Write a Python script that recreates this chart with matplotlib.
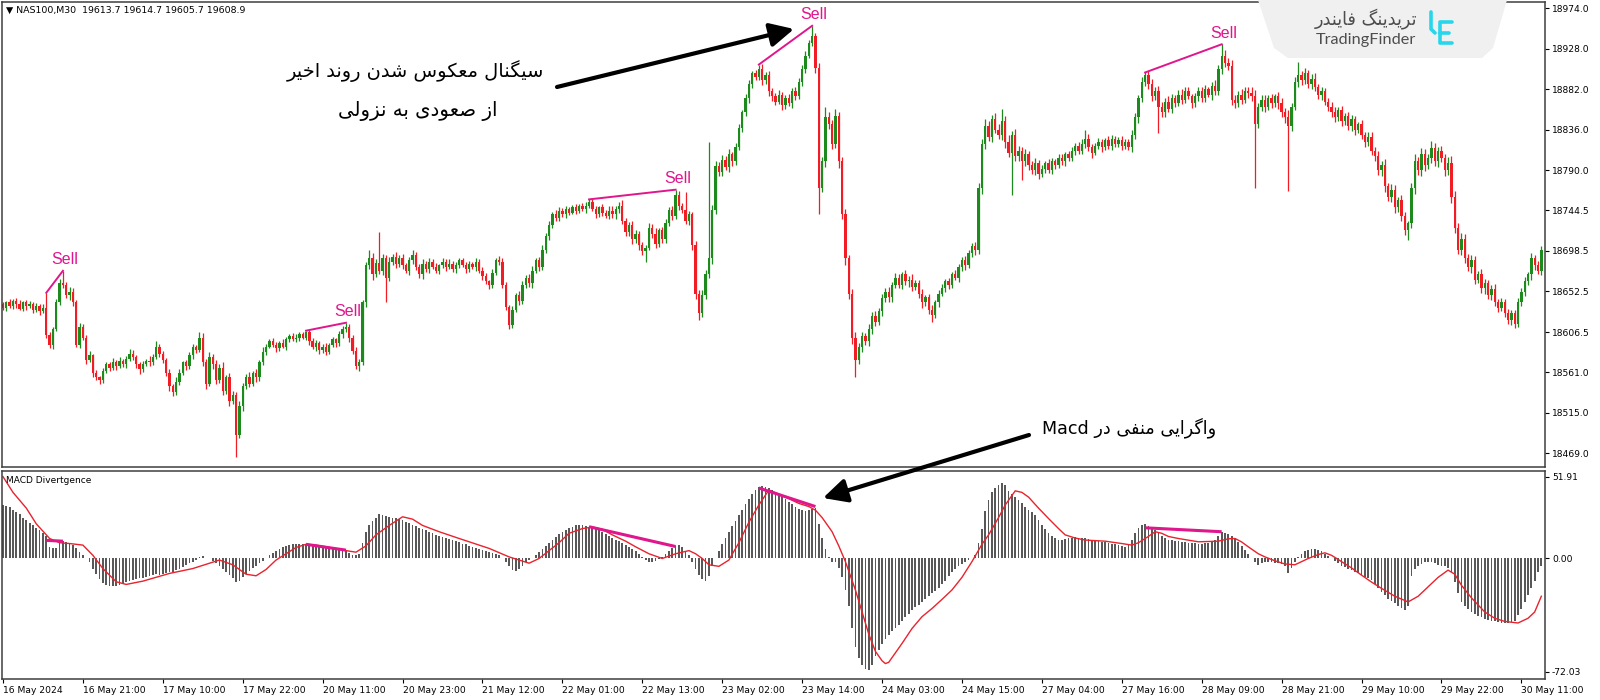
import numpy as np
import matplotlib
matplotlib.use("Agg")
import matplotlib.pyplot as plt
from matplotlib.patches import Polygon, FancyArrowPatch
from matplotlib.lines import Line2D

# ---- data ----
first_open = 18638
closes = [
    18634, 18640, 18636, 18642, 18638, 18633, 18640, 18636, 18638, 18632, 18636, 18630, 18634, 18603, 18592, 18610, 18640, 18662, 18660, 18648, 18652, 18640, 18592, 18612,
    18600, 18575, 18580, 18560, 18555, 18552, 18562, 18570, 18566, 18572, 18568, 18574, 18570, 18576, 18582, 18578, 18570, 18564, 18570, 18574, 18572, 18578, 18590, 18582,
    18575, 18560, 18545, 18538, 18550, 18560, 18572, 18568, 18580, 18590, 18586, 18600, 18572, 18548, 18578, 18570, 18552, 18566, 18540, 18555, 18528, 18535, 18490, 18522,
    18545, 18556, 18548, 18560, 18555, 18572, 18584, 18590, 18596, 18592, 18588, 18594, 18590, 18598, 18602, 18598, 18600, 18604, 18600, 18606, 18596, 18590, 18594, 18586,
    18590, 18584, 18592, 18598, 18594, 18604, 18610, 18612, 18600, 18585, 18568, 18572, 18640, 18682, 18690, 18672, 18685, 18676, 18690, 18668, 18686, 18692, 18684, 18690,
    18682, 18676, 18688, 18694, 18680, 18672, 18684, 18678, 18686, 18680, 18676, 18682, 18686, 18680, 18684, 18678, 18682, 18688, 18682, 18678, 18684, 18680, 18686, 18676,
    18670, 18664, 18660, 18674, 18688, 18686, 18660, 18635, 18615, 18632, 18648, 18642, 18660, 18668, 18662, 18676, 18688, 18680, 18700, 18716, 18728, 18740, 18736, 18744,
    18740, 18746, 18742, 18748, 18744, 18750, 18746, 18750, 18754, 18746, 18740, 18748, 18742, 18738, 18744, 18740, 18746, 18750, 18732, 18720, 18728, 18712, 18718, 18705,
    18698, 18702, 18725, 18718, 18706, 18722, 18712, 18730, 18745, 18738, 18762, 18750, 18745, 18732, 18740, 18705, 18650, 18628, 18648, 18672, 18690, 18745, 18795, 18788,
    18802, 18794, 18808, 18800, 18816, 18838, 18856, 18872, 18888, 18900, 18896, 18905, 18892, 18898, 18880, 18874, 18868, 18876, 18864, 18872, 18866, 18880, 18874, 18890,
    18905, 18920, 18935, 18942, 18906, 18770, 18800, 18850, 18842, 18820, 18852, 18800, 18740, 18690, 18650, 18600, 18575, 18590, 18602, 18596, 18610, 18625, 18618, 18630,
    18645, 18652, 18646, 18660, 18668, 18660, 18672, 18664, 18666, 18658, 18662, 18650, 18640, 18646, 18632, 18626, 18640, 18650, 18656, 18664, 18660, 18672, 18668, 18680,
    18688, 18682, 18696, 18704, 18700, 18770, 18820, 18840, 18828, 18848, 18836, 18830, 18846, 18822, 18810, 18830, 18806, 18812, 18800, 18808, 18796, 18790, 18798, 18786,
    18792, 18798, 18790, 18800, 18796, 18804, 18800, 18808, 18804, 18812, 18818, 18812, 18820, 18826, 18816, 18810, 18818, 18822, 18816, 18824, 18818, 18826, 18820, 18824,
    18818, 18822, 18816, 18830, 18850, 18872, 18890, 18898, 18888, 18874, 18880, 18862, 18856, 18868, 18860, 18872, 18866, 18876, 18870, 18880, 18874, 18866, 18874, 18880,
    18872, 18882, 18876, 18886, 18880, 18905, 18920, 18912, 18908, 18870, 18866, 18876, 18870, 18880, 18878, 18874, 18842, 18862, 18870, 18862, 18872, 18866, 18874, 18866,
    18856, 18850, 18840, 18862, 18890, 18898, 18892, 18900, 18888, 18894, 18884, 18876, 18880, 18868, 18862, 18856, 18850, 18858, 18846, 18852, 18840, 18848, 18836, 18842,
    18830, 18822, 18828, 18812, 18806, 18790, 18796, 18772, 18760, 18768, 18748, 18756, 18738, 18722, 18730, 18770, 18800, 18790, 18808, 18796, 18804, 18815, 18800, 18812,
    18804, 18790, 18798, 18760, 18725, 18700, 18712, 18690, 18680, 18688, 18666, 18672, 18656, 18662, 18648, 18655, 18640, 18634, 18640, 18628, 18620, 18628, 18616, 18640,
    18652, 18664, 18672, 18690, 18682, 18676, 18700,
]
up_wick = [
    3, 2, 4, 2, 3, 5, 2, 3, 4, 2, 3, 2, 4, 17, 3, 2, 4, 5, 14, 3, 6, 4, 3, 5,
    4, 3, 5, 2, 3, 2, 4, 3, 2, 5, 3, 4, 2, 3, 5, 4, 2, 3, 4, 2, 5, 3, 6, 3,
    3, 2, 4, 3, 5, 4, 2, 3, 4, 3, 2, 6, 5, 4, 6, 3, 5, 4, 6, 3, 5, 4, 3, 6,
    4, 3, 5, 2, 4, 3, 5, 3, 2, 4, 3, 2, 4, 3, 2, 3, 4, 2, 3, 2, 3, 4, 3, 2,
    3, 4, 2, 3, 2, 4, 3, 5, 4, 3, 5, 4, 3, 4, 10, 6, 4, 35, 5, 4, 6, 3, 5, 4,
    5, 3, 4, 6, 3, 4, 5, 3, 4, 3, 5, 2, 4, 3, 5, 3, 4, 2, 3, 4, 3, 2, 4, 3,
    4, 3, 2, 4, 3, 5, 4, 3, 2, 4, 3, 5, 4, 3, 4, 5, 3, 4, 5, 3, 4, 3, 5, 4,
    3, 4, 2, 3, 4, 2, 3, 4, 3, 4, 3, 2, 4, 3, 5, 6, 3, 4, 6, 4, 3, 5, 4, 3,
    4, 3, 5, 4, 6, 3, 4, 5, 3, 4, 6, 4, 3, 20, 4, 3, 5, 4, 6, 5, 132, 6, 5, 4,
    5, 4, 6, 3, 5, 4, 3, 5, 4, 3, 4, 5, 6, 4, 5, 3, 4, 5, 3, 4, 5, 3, 4, 5,
    4, 5, 3, 12, 4, 6, 5, 12, 6, 5, 8, 4, 5, 6, 4, 5, 6, 4, 5, 3, 6, 4, 5, 4,
    5, 4, 6, 3, 5, 4, 3, 5, 4, 6, 3, 4, 5, 3, 4, 5, 3, 4, 5, 3, 4, 3, 5, 4,
    4, 5, 3, 4, 5, 6, 5, 8, 6, 5, 7, 6, 14, 6, 8, 5, 7, 6, 5, 6, 4, 5, 6, 4,
    4, 3, 5, 4, 3, 5, 4, 3, 4, 5, 3, 4, 6, 10, 5, 4, 3, 5, 4, 3, 5, 4, 3, 4,
    5, 4, 3, 6, 5, 4, 6, 3, 5, 6, 4, 6, 5, 4, 6, 5, 4, 5, 6, 4, 5, 3, 4, 5,
    4, 5, 3, 4, 6, 5, 13, 6, 5, 7, 5, 4, 6, 5, 4, 6, 7, 4, 5, 6, 4, 5, 3, 5,
    6, 5, 8, 4, 6, 15, 5, 6, 4, 5, 6, 4, 5, 3, 4, 5, 6, 4, 5, 3, 4, 5, 4, 3,
    5, 4, 6, 5, 4, 6, 5, 7, 4, 6, 5, 4, 6, 5, 3, 6, 8, 5, 7, 6, 5, 8, 6, 5,
    6, 5, 7, 8, 6, 5, 7, 6, 5, 6, 5, 4, 6, 5, 4, 5, 6, 4, 5, 4, 5, 4, 3, 5,
    4, 5, 3, 6, 4, 5, 4,
]
dn_wick = [
    3, 4, 2, 3, 4, 2, 3, 5, 2, 4, 3, 4, 2, 3, 4, 5, 2, 3, 4, 3, 5, 4, 3, 4,
    3, 5, 2, 4, 3, 4, 3, 2, 4, 3, 5, 2, 3, 4, 2, 3, 4, 5, 3, 2, 4, 3, 2, 4,
    4, 3, 5, 4, 3, 4, 2, 5, 3, 4, 3, 2, 4, 6, 3, 5, 4, 3, 5, 4, 6, 3, 25, 4,
    5, 3, 4, 3, 5, 4, 3, 4, 2, 3, 4, 3, 2, 4, 3, 2, 3, 4, 2, 3, 4, 3, 5, 4,
    3, 4, 3, 2, 4, 3, 4, 3, 5, 4, 3, 6, 3, 5, 4, 6, 3, 4, 5, 28, 4, 3, 5, 4,
    4, 3, 5, 4, 3, 4, 5, 3, 4, 2, 3, 4, 3, 4, 2, 3, 4, 3, 2, 4, 3, 2, 4, 3,
    4, 3, 5, 4, 3, 4, 3, 4, 5, 4, 3, 5, 4, 3, 4, 5, 3, 4, 3, 4, 5, 3, 4, 3,
    3, 4, 3, 2, 4, 3, 2, 4, 3, 2, 4, 3, 4, 2, 3, 4, 5, 4, 3, 5, 4, 6, 4, 5,
    4, 12, 3, 5, 4, 3, 5, 4, 3, 4, 3, 5, 4, 3, 4, 5, 6, 8, 5, 4, 4, 6, 5, 4,
    5, 4, 6, 5, 4, 3, 5, 4, 6, 5, 4, 3, 5, 4, 6, 5, 4, 3, 5, 4, 3, 5, 4, 3,
    4, 5, 3, 4, 6, 30, 5, 6, 5, 6, 5, 7, 5, 8, 6, 7, 19, 5, 6, 4, 5, 6, 5, 4,
    5, 4, 6, 5, 4, 3, 5, 4, 6, 5, 4, 5, 6, 4, 5, 8, 4, 5, 3, 4, 5, 4, 3, 5,
    4, 5, 3, 4, 6, 5, 7, 6, 5, 6, 4, 5, 6, 7, 5, 48, 6, 5, 21, 5, 6, 4, 5, 6,
    4, 5, 3, 4, 5, 3, 4, 5, 3, 4, 5, 4, 3, 5, 4, 6, 3, 4, 5, 3, 4, 5, 3, 4,
    5, 4, 3, 5, 4, 6, 5, 4, 6, 5, 4, 30, 5, 6, 4, 5, 4, 3, 5, 4, 3, 5, 4, 5,
    4, 5, 3, 6, 4, 5, 6, 5, 4, 6, 5, 4, 5, 4, 6, 5, 72, 4, 5, 6, 4, 5, 4, 6,
    5, 6, 74, 5, 4, 6, 5, 4, 5, 6, 4, 5, 6, 4, 5, 6, 5, 4, 6, 5, 4, 5, 6, 4,
    5, 6, 4, 5, 6, 5, 6, 7, 5, 6, 7, 5, 6, 5, 11, 6, 7, 5, 6, 7, 5, 6, 5, 6,
    5, 6, 5, 7, 6, 5, 6, 5, 4, 6, 5, 4, 5, 6, 4, 5, 4, 5, 4, 5, 4, 6, 5, 4,
    4, 5, 4, 6, 5, 4, 5,
]
macd_hist = [
    34.3, 33.5, 32.5, 31.0, 29.5, 28.0, 26.0, 24.5, 22.5, 21.0, 19.5, 18.0, 16.5, 14.0, 7.0, 6.5, 6.8, 11.0, 11.0, 10.5, 10.0, 8.5, 6.5, 4.0,
    2.1, 0.5, -2.5, -6.4, -10.0, -13.0, -15.5, -17.0, -17.5, -17.8, -17.6, -17.0, -16.0, -15.0, -14.2, -13.6, -13.0, -12.6, -12.2, -11.8, -11.4, -10.6, -10.0, -10.4,
    -9.8, -9.0, -8.5, -8.8, -7.5, -6.5, -5.3, -4.2, -3.0, -2.0, -1.0, 0.8, 1.5, 0.5, 0.0, -1.5, -3.0, -4.5, -6.5, -8.5, -10.5, -12.5, -14.8, -14.0,
    -12.0, -10.0, -8.0, -6.0, -4.5, -3.0, -1.5, 0.3, 2.0, 3.5, 5.0, 6.0, 7.0, 8.0, 8.5, 9.0, 9.2, 9.5, 9.5, 9.3, 9.0, 8.5, 8.0, 7.8,
    7.5, 7.2, 6.8, 6.5, 6.0, 5.5, 5.0, 4.5, 3.5, 2.5, 2.0, 3.0, 10.0, 17.0, 21.0, 24.0, 26.0, 28.0, 27.5, 27.0, 26.5, 26.0, 25.5, 25.0,
    24.5, 23.5, 22.5, 21.5, 20.5, 19.5, 19.0, 18.0, 17.0, 16.0, 15.0, 14.2, 13.8, 13.0, 12.2, 11.5, 10.8, 10.2, 9.5, 9.0, 8.2, 7.5, 6.8, 6.0,
    5.3, 4.8, 4.0, 3.5, 3.0, 2.2, 0.5, -2.0, -5.0, -7.5, -8.0, -6.5, -4.5, -2.5, -1.0, 0.5, 2.0, 4.0, 6.0, 8.0, 10.0, 12.0, 13.8, 15.5,
    17.0, 18.2, 19.3, 20.3, 21.0, 21.3, 21.0, 20.6, 20.2, 19.8, 19.2, 18.0, 16.8, 15.5, 14.2, 13.0, 12.0, 11.0, 9.8, 8.6, 7.4, 6.0, 4.5, 3.0,
    1.0, -1.0, -2.0, -2.2, -1.5, -0.5, 1.0, 3.0, 5.0, 6.5, 7.8, 8.5, 7.0, 5.0, 2.0, -2.0, -6.5, -10.5, -13.0, -14.5, -11.0, -5.0, 0.5, 4.5,
    9.0, 13.0, 17.0, 20.5, 24.0, 27.5, 31.0, 34.5, 38.0, 41.0, 43.5, 45.6, 45.8, 45.2, 44.5, 43.5, 42.0, 40.5, 39.0, 37.5, 36.0, 34.5, 33.0, 31.5,
    30.5, 30.0, 30.8, 31.5, 32.0, 22.0, 13.0, 6.0, 1.0, -2.0, -2.5, -6.0, -12.0, -20.0, -30.0, -44.0, -56.0, -63.0, -68.0, -70.0, -71.0, -68.0, -62.0, -58.0,
    -54.5, -51.0, -48.5, -46.0, -44.0, -42.0, -40.0, -37.5, -35.0, -33.0, -31.0, -29.5, -27.6, -26.0, -24.0, -22.0, -20.5, -19.0, -16.5, -14.0, -11.0, -8.5, -6.5, -5.0,
    -3.8, -2.5, -1.0, 0.5, 2.5, 10.0, 19.0, 30.0, 37.0, 42.0, 45.0, 46.5, 47.7, 46.5, 43.0, 41.0, 39.0, 37.0, 35.0, 33.0, 31.0, 29.5, 27.6, 24.5,
    21.5, 18.5, 16.5, 14.5, 13.0, 12.0, 12.0, 12.5, 13.0, 13.2, 13.5, 13.2, 13.0, 12.8, 12.2, 11.5, 11.0, 10.8, 10.5, 10.2, 9.8, 9.5, 9.0, 8.5,
    8.0, 7.5, 8.5, 12.0, 16.0, 19.5, 21.5, 22.0, 20.5, 19.0, 18.0, 16.0, 14.5, 13.0, 12.0, 11.5, 11.0, 10.8, 10.5, 10.2, 10.0, 9.8, 9.6, 9.5,
    9.5, 9.8, 10.0, 10.5, 12.0, 14.5, 17.0, 16.5, 15.5, 14.0, 12.7, 10.5, 8.0, 5.5, 3.0, 0.5, -2.5, -4.0, -3.0, -2.0, -2.0, -2.5, -3.0, -3.0,
    -3.5, -4.5, -9.5, -6.0, -2.0, 1.0, 3.0, 4.5, 5.5, 6.0, 6.0, 5.5, 4.5, 3.0, 1.5, 0.0, -1.5, -3.0, -4.5, -5.5, -6.5, -7.5, -8.5, -9.5,
    -10.5, -11.5, -12.5, -13.5, -16.0, -18.5, -21.0, -23.5, -25.5, -27.0, -28.5, -30.0, -31.5, -32.5, -30.0, -11.0, -6.5, -4.5, -3.5, -2.5, -2.0, -2.5, -3.0, -4.0,
    -4.5, -5.0, -6.0, -8.5, -15.0, -22.0, -27.6, -30.0, -32.0, -34.0, -35.5, -36.5, -37.5, -38.5, -39.0, -39.5, -40.0, -40.5, -41.0, -41.0, -41.0, -40.5, -39.5, -36.0,
    -32.0, -27.5, -23.0, -18.5, -14.0, -8.5, -4.5,
]
sig_bars = [0, 3, 7, 10, 14, 17, 20, 24, 27, 30, 34, 37, 42, 50, 57, 62, 65, 69, 73, 76,
            79, 82, 85, 88, 91, 94, 97, 103, 106, 109, 112, 116, 120, 123, 126, 131, 137, 146, 152, 158,
            161, 164, 167, 170, 174, 177, 180, 183, 187, 190, 194, 198, 202, 206, 208, 210, 212, 215, 218, 221,
            224, 227, 230, 233, 236, 239, 242, 244, 246, 249, 251, 253, 256, 258, 260, 262, 264, 265, 266, 268,
            270, 273, 276, 279, 282, 285, 288, 291, 294, 296, 299, 301, 303, 304, 306, 308, 311, 314, 317, 319,
            322, 325, 331, 336, 339, 341, 344, 346, 348, 350, 353, 359, 365, 368, 370, 372, 374, 377, 379, 382,
            385, 388, 390, 392, 395, 397, 399, 402, 405, 408, 411, 414, 418, 422, 425, 428, 431, 434, 436, 438,
            441, 445, 448, 451, 455, 458, 460, 462]
sig_vals = [52, 42, 32, 22, 12.7, 10, 9.5, 8.5, 2, -6.4, -14.8, -16.5, -14.4, -9.5, -6.4, -3, -1, -4, -10, -11,
            -7, -1, 3, 7, 9, 8.5, 7.4, 5, 4, 8, 15, 21, 26.5, 25, 21, 17, 12.7, 6.4, 1, -3,
            0, 5, 10, 16, 19, 20, 18.5, 15, 11, 7.4, 3, 0, 3, 5, 3, 0, -4, -5, -1, 10,
            23, 34, 43.5, 41, 38, 35, 33, 30.7, 26, 17, 8, -2, -20, -34, -48, -59, -65, -66.8, -66, -60,
            -54, -44.5, -37, -31.8, -26, -20, -12, -2, 9, 15, 26, 34, 40, 43, 42, 39, 32, 25.4, 19, 15,
            13, 11.7, 11, 9.5, 8.5, 10, 14, 17, 16, 14, 12.7, 10.6, 11, 12.5, 12.7, 10.5, 7.4, 3, 1, -1.5,
            -3.5, -4, -2, 0, 2.5, 3.6, 2, -2, -6, -10.6, -15, -19, -24, -27.6, -24, -18, -12, -7.4, -10, -17,
            -25, -34, -38, -40, -41, -38, -34, -24]

# sell signals: (start bar, start price, end bar, end price) and the matching MACD divergences
sell_lines = [(13, 18651, 18, 18676), (91, 18608, 103, 18617), (176, 18757, 202, 18768),
              (227, 18910, 243, 18954), (343, 18901, 366, 18933)]
macd_div = [(13, 11.5, 18, 11.0), (91, 9.0, 103, 5.3), (176, 20.2, 202, 7.6),
            (227, 44.8, 244, 33.0), (343, 19.5, 366, 17.0)]

price_ticks = [18974.0, 18928.0, 18882.0, 18836.0, 18790.0, 18744.5, 18698.5,
               18652.5, 18606.5, 18561.0, 18515.0, 18469.0]
macd_ticks = [51.91, 0.00, -72.03]
time_labels = ["16 May 2024", "16 May 21:00", "17 May 10:00", "17 May 22:00", "20 May 11:00",
               "20 May 23:00", "21 May 12:00", "22 May 01:00", "22 May 13:00", "23 May 02:00",
               "23 May 14:00", "24 May 03:00", "24 May 15:00", "27 May 04:00", "27 May 16:00",
               "28 May 09:00", "28 May 21:00", "29 May 10:00", "29 May 22:00", "30 May 11:00"]

GREEN = "#1c8a1c"
RED = "#f21c24"
PINK = "#e0168c"
FRAME = "#3e3e3e"

# ---- tiny Persian shaper (presentation forms + RTL order) ----
FA = {
    "ا": ("\uFE8D", "\uFE8E", None, None), "ب": ("\uFE8F", "\uFE90", "\uFE91", "\uFE92"),
    "ت": ("\uFE95", "\uFE96", "\uFE97", "\uFE98"), "خ": ("\uFEA5", "\uFEA6", "\uFEA7", "\uFEA8"),
    "د": ("\uFEA9", "\uFEAA", None, None), "ر": ("\uFEAD", "\uFEAE", None, None),
    "ز": ("\uFEAF", "\uFEB0", None, None), "س": ("\uFEB1", "\uFEB2", "\uFEB3", "\uFEB4"),
    "ش": ("\uFEB5", "\uFEB6", "\uFEB7", "\uFEB8"), "ص": ("\uFEB9", "\uFEBA", "\uFEBB", "\uFEBC"),
    "ع": ("\uFEC9", "\uFECA", "\uFECB", "\uFECC"), "ف": ("\uFED1", "\uFED2", "\uFED3", "\uFED4"),
    "ل": ("\uFEDD", "\uFEDE", "\uFEDF", "\uFEE0"), "م": ("\uFEE1", "\uFEE2", "\uFEE3", "\uFEE4"),
    "ن": ("\uFEE5", "\uFEE6", "\uFEE7", "\uFEE8"), "ه": ("\uFEE9", "\uFEEA", "\uFEEB", "\uFEEC"),
    "و": ("\uFEED", "\uFEEE", None, None), "ک": ("\uFB8E", "\uFB8F", "\uFB90", "\uFB91"),
    "گ": ("\uFB92", "\uFB93", "\uFB94", "\uFB95"), "ی": ("\uFBFC", "\uFBFD", "\uFBFE", "\uFBFF"),
}


def fa(text):
    out = []
    for i, ch in enumerate(text):
        if ch not in FA:
            out.append(ch)
            continue
        iso, fin, ini, med = FA[ch]
        prev = text[i - 1] if i > 0 else ""
        nxt = text[i + 1] if i + 1 < len(text) else ""
        j_prev = prev in FA and FA[prev][2] is not None
        j_next = ini is not None and nxt in FA
        if j_prev and j_next:
            out.append(med)
        elif j_prev:
            out.append(fin)
        elif j_next:
            out.append(ini)
        else:
            out.append(iso)
    return "".join(reversed(out))


fig = plt.figure(figsize=(16, 7), dpi=100)
fig.patch.set_facecolor("white")


def fx(x):
    return x / 1600


def fy(y):
    return 1 - y / 700


def fit_width(t, width):
    r = fig.canvas.get_renderer()
    w = t.get_window_extent(renderer=r).width
    t.set_fontsize(t.get_fontsize() * width / w)


ax = fig.add_axes([fx(2), fy(467), (1545 - 2) / 1600, 465 / 700])
axm = fig.add_axes([fx(2), fy(679), (1545 - 2) / 1600, 208 / 700])

# ---- candles ----
x = np.arange(len(closes))
c = np.array(closes, float)
o = np.concatenate([[first_open], c[:-1]])
h = np.maximum(o, c) + np.array(up_wick)
l = np.minimum(o, c) - np.array(dn_wick)
col = np.where(c >= o, GREEN, RED)
ax.vlines(x, l, h, colors=col, lw=0.9)
ax.bar(x, np.maximum(np.abs(c - o), 1.0), bottom=np.minimum(o, c), width=0.7,
       color=col, linewidth=0)

for b0, p0, b1, p1 in sell_lines:
    ax.plot([b0, b1], [p0, p1], color=PINK, lw=1.4)
    ax.annotate("Sell", xy=(b1 + 0.5, p1), xytext=(0, 11), textcoords="offset pixels",
                ha="center", va="center", color=PINK, fontsize=11.5, family="Liberation Sans")

ax.set_xlim(-0.3, 463.1)
ax.set_ylim(18453.3, 18981.0)
ax.yaxis.tick_right()
ax.set_yticks(price_ticks, labels=[f"{p:.1f}" for p in price_ticks])
ax.set_xticks([])
ax.tick_params(axis="y", direction="out", length=3, width=0.8, labelsize=6.6, pad=2,
               colors="black")

# ---- MACD ----
axm.bar(x, macd_hist, width=0.52, color="#585858", linewidth=0)
axm.plot(sig_bars, sig_vals, color="#e8232d", lw=1.0)
for b0, v0, b1, v1 in macd_div:
    axm.plot([b0, b1], [v0, v1], color=PINK, lw=2.2, solid_capstyle="butt")
axm.set_xlim(-0.3, 463.1)
axm.set_ylim(-76.6, 55.6)
axm.yaxis.tick_right()
axm.set_yticks(macd_ticks, labels=["51.91", "0.00", "-72.03"])
axm.set_xticks(list(range(0, len(closes), 24)), labels=time_labels)
for lb in axm.get_xticklabels():
    lb.set_ha("left")
axm.tick_params(axis="y", direction="out", length=3, width=0.8, labelsize=6.6, pad=2)
axm.tick_params(axis="x", direction="out", length=3, width=0.8, labelsize=6.6, pad=2)

for a in (ax, axm):
    for s in a.spines.values():
        s.set_color(FRAME)
        s.set_linewidth(1.1)

# ---- texts ----
hdr = fig.text(fx(6), fy(10.5), "\u25BC NAS100,M30  19613.7 19614.7 19605.7 19608.9",
               ha="left", va="center", fontsize=7.5, color="black")
fit_width(hdr, 241)
md = fig.text(fx(6), fy(480.5), "MACD Divertgence", ha="left", va="center", fontsize=7.5)
fit_width(md, 85)

t1 = fig.text(fx(415), fy(71), fa("سیگنال معکوس شدن روند اخیر"), ha="center", va="center",
              fontsize=16, family="DejaVu Sans", color="black")
fit_width(t1, 256)
t2 = fig.text(fx(417.5), fy(111), fa("از صعودی به نزولی"), ha="center", va="center",
              fontsize=16, family="DejaVu Sans", color="black")
fit_width(t2, 159)
t3 = fig.text(fx(1129), fy(428), "Macd " + fa("واگرایی منفی در"), ha="center", va="center",
              fontsize=16, family="DejaVu Sans", color="black")
fit_width(t3, 174)

for (x0, y0), (x1, y1) in [((557, 87), (794, 29)), ((1029, 435), (823, 498))]:
    fig.add_artist(FancyArrowPatch((fx(x0), fy(y0)), (fx(x1), fy(y1)), transform=fig.transFigure,
                                   arrowstyle="-|>,head_length=0.9,head_width=0.45",
                                   mutation_scale=16, lw=3, color="black",
                                   shrinkA=0, shrinkB=0, zorder=8))

# ---- watermark ----
logo = [(1258, 0), (1507, 0), (1493, 48), (1482, 58), (1288, 58), (1274, 48)]
fig.add_artist(Polygon([(fx(a), fy(b)) for a, b in logo], closed=True, transform=fig.transFigure,
                       fc="#f0f0f0", ec="none", zorder=5))
lg1 = fig.text(fx(1366), fy(19), fa("تریدینگ فایندر"), ha="center", va="center", fontsize=11,
               family="DejaVu Sans", color="#4d4d4d", zorder=6)
fit_width(lg1, 102)
lg2 = fig.text(fx(1366), fy(40), "TradingFinder", ha="center", va="center", fontsize=11,
               family="Lato", color="#4d4d4d", zorder=6)
fit_width(lg2, 100)
CYAN = "#27d6ea"
for xs, ys in [([1431, 1431, 1435], [12, 29, 33]),
               ([1452, 1440, 1440, 1452], [22, 22, 43, 43]),
               ([1440, 1449], [33, 33])]:
    fig.add_artist(Line2D([fx(v) for v in xs], [fy(v) for v in ys], transform=fig.transFigure,
                          color=CYAN, lw=2.6, solid_capstyle="round", solid_joinstyle="round",
                          zorder=6))

fig.savefig("out.png", dpi=100)
